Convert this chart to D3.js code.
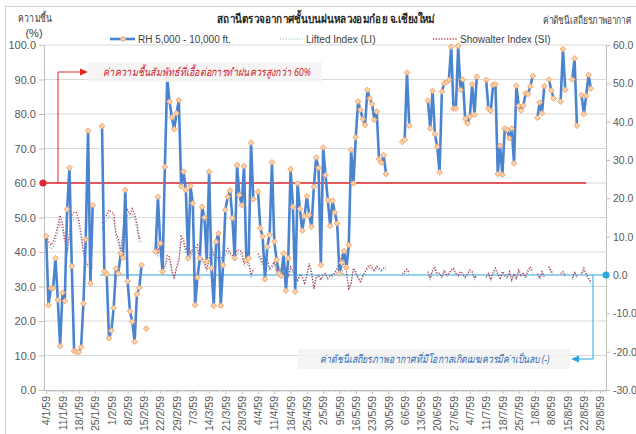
<!DOCTYPE html>
<html>
<head>
<meta charset="utf-8">
<script src="https://cdn.jsdelivr.net/npm/d3@7"></script>
<style>
    body { margin: 0; background: #fff; }
    svg { font-family: "Liberation Sans", "Noto Sans", sans-serif; }
</style>
</head>
<body>
<svg id="chart" width="636" height="434"></svg>
<script>
// X axis: weekly labels (Thai date, year 2559)
const tickLabels = ["4/1/59", "11/1/59", "18/1/59", "25/1/59", "1/2/59", "8/2/59", "15/2/59", "22/2/59",
    "29/2/59", "7/3/59", "14/3/59", "21/3/59", "28/3/59", "4/4/59", "11/4/59", "18/4/59", "25/4/59",
    "2/5/59", "9/5/59", "16/5/59", "23/5/59", "30/5/59", "6/6/59", "13/6/59", "20/6/59", "27/6/59",
    "4/7/59", "11/7/59", "18/7/59", "25/7/59", "1/8/59", "8/8/59", "15/8/59", "22/8/59", "29/8/59"];

const leftTicks = [0, 10, 20, 30, 40, 50, 60, 70, 80, 90, 100];
const rightTicks = [-30, -20, -10, 0, 10, 20, 30, 40, 50, 60];

// RH 5,000 - 10,000 ft. (%), one value per day from 4/1/59, null = no sounding
const rh = [
    44.6, 24.6, 29.5, 29.5, 38.2, 26.1, 12.7, 28.2, 25.8, 52.4,
    64.4, 35.9, 11.3, 11.0, 11.0, 12.4, 25.1, 43.7, 75.2, 30.9,
    53.6, null, null, null, 76.5, 34.3, 33.6, 15.0, 17.2, 23.8,
    35.2, 33.8, 39.6, 38.3, 58.0, 31.5, 22.8, 19.8, 14.0, 27.8,
    29.6, 36.2, null, 17.8, null, null, null, 40.1, 56.0, 42.5,
    34.3, 64.7, 90.3, 83.6, 79.0, 75.6, 80.2, 84.0, 59.0, 63.3,
    58.0, 38.2, 59.1, 54.1, 24.6, 32.6, 38.2, 53.1, 50.0, 37.2,
    63.3, 35.3, 24.4, 43.0, 45.4, 24.4, 36.2, 52.2, 56.0, 57.8,
    49.8, 38.2, 65.2, 56.5, 53.6, 64.9, 37.7, 38.2, 71.7, 55.3,
    null, 57.5, 46.9, 44.5, 32.1, 41.5, 45.0, 66.0, 43.0, 37.7,
    33.8, 33.0, 39.6, 28.8, 38.2, 64.0, 53.1, 28.5, 59.9, 52.5,
    46.2, 50.4, 56.2, 50.7, 47.3, 58.9, 67.4, 64.4, 36.2, 70.3,
    62.3, 55.0, 47.6, 54.9, 51.5, 48.3, 33.8, 36.9, 40.3, 35.5,
    42.0, 69.6, 59.9, 73.2, 83.6, 81.2, 78.5, 76.8, 87.0, 84.5,
    82.9, 78.3, 80.7, 66.9, 65.9, 68.1, 62.6, null, null, null,
    null, null, null, 71.9, 72.5, 92.0, 76.6, null, null, null,
    null, null, null, null, 83.9, 75.8, 86.7, 74.2, 70.5, 63.1,
    86.5, 88.9, 89.2, 89.9, 99.5, 81.6, 81.6, 99.7, 87.0, 90.0,
    78.6, 77.3, 79.2, 88.6, 79.8, 90.8, null, null, null, 89.9,
    81.5, 80.9, 88.4, 88.6, 62.6, 70.8, 62.4, 75.8, 75.4, 73.0,
    75.8, 65.7, 88.2, 82.4, 81.0, 82.4, 86.0, 85.8, 88.0, 91.0,
    null, 78.9, 83.3, 80.2, 88.1, null, 90.0, 86.8, 84.5, null,
    null, 83.6, 98.8, 87.0, null, null, 90.0, 96.1, 76.6, null,
    85.5, 80.0, 85.3, 91.3, 87.4, null, null, null, null, null,
    null
];

// Lifted Index (LI), right axis
const li = [
    8.5, 7.5, 6.8, 7.2, 9.0, 11.0, 13.8, 12.0, 8.0, 5.2,
    9.5, 13.8, 14.6, 14.8, 13.0, 9.8, 5.5, 2.8, 2.0, 2.2,
    1.8, null, null, null, 12.0, 13.6, 14.2, 15.4, 14.8, 14.5,
    9.8, 8.4, 5.5, 10.2, 14.2, 15.5, 14.6, 15.8, 14.4, 12.2,
    8.6, 8.8, null, 10.0, null, null, null, 10.2, 4.8, 8.0,
    0.8, 1.6, 4.2, 3.9, 0.6, -1.2, 1.5, 3.0, 8.8, 8.0,
    5.6, 7.2, 4.8, 6.0, 6.0, 6.8, 2.8, 3.6, 2.6, 0.9,
    3.4, 6.4, 4.4, 3.6, 3.9, 3.5, 4.4, 5.1, 6.0, 5.0,
    4.3, 3.9, 5.6, 5.6, 5.2, 2.3, 2.6, 2.8, -0.5, 0.9,
    null, 4.8, 4.0, 2.4, 2.9, 3.2, 1.2, 1.8, 2.8, 0.8,
    1.5, 0.6, 0.0, 1.2, -0.8, 1.5, 0.6, -0.4, -1.6, -0.2,
    -0.8, -2.4, -0.4, 2.3, 0.4, -3.8, -0.8, -0.4, -1.5, -0.4,
    0.0, -1.1, -0.4, -0.4, 0.2, 1.3, 2.0, 1.6, -0.2, 0.6,
    -3.8, -2.4, 1.3, 0.4, -1.0, -2.0, -0.6, 0.4, 1.6, 2.0,
    1.5, 0.8, 1.8, 1.3, 0.8, 1.3, 1.6, null, null, null,
    null, null, null, -0.2, 0.4, 0.9, 0.0, null, null, null,
    null, null, null, null, 0.4, -1.2, 0.8, 1.6, -0.2, 0.0,
    -0.9, 0.8, -0.4, 0.0, 0.8, 1.2, -0.1, -0.5, 0.4, 0.0,
    -0.9, -0.1, 0.8, 0.4, -1.2, -0.4, null, null, null, -0.8,
    0.0, -1.6, 0.4, 1.2, 0.0, -1.2, 0.4, -0.4, -0.9, 0.4,
    -1.6, 0.0, -1.2, 0.8, -0.4, 0.0, -0.9, 0.8, 1.6, 0.4,
    null, 0.0, -1.2, 0.4, -0.8, null, 1.6, 0.4, 0.0, null,
    null, 0.0, 0.4, -0.4, null, null, -1.2, 0.4, -0.8, null,
    0.0, 1.2, 0.0, -1.2, -2.4, null, null, null, null, null,
    null
];

// Showalter Index (SI), right axis
const si = [
    10.0, 8.7, 7.8, 8.7, 10.5, 12.6, 15.6, 13.5, 9.3, 6.1,
    10.9, 15.6, 16.3, 16.3, 14.4, 10.9, 6.1, 3.5, 2.6, 3.0,
    2.4, null, null, null, 13.5, 15.0, 15.6, 17.0, 16.3, 16.1,
    10.9, 9.6, 6.3, 11.4, 15.9, 17.0, 15.9, 17.3, 15.9, 13.5,
    9.6, 9.8, null, 11.3, null, null, null, 11.8, 5.6, 9.2,
    1.5, 2.4, 5.1, 4.7, 1.3, -0.8, 2.2, 3.9, 10.1, 9.2,
    6.5, 8.3, 5.6, 6.9, 6.9, 7.8, 3.5, 4.4, 3.3, 1.5,
    4.2, 7.4, 5.2, 4.4, 4.7, 4.2, 5.2, 6.0, 6.9, 5.8,
    5.1, 4.7, 6.5, 6.5, 6.1, 3.0, 3.3, 3.5, 0.0, 1.5,
    null, 5.6, 4.7, 3.0, 3.5, 3.9, 1.8, 2.4, 3.5, 1.3,
    2.1, 1.1, 0.4, 1.8, -0.4, 2.1, 1.1, 0.0, -1.3, 0.2,
    -0.4, -2.1, 0.0, 3.0, 0.9, -3.5, -0.4, 0.0, -1.2, 0.0,
    0.4, -0.8, 0.0, 0.0, 0.6, 1.8, 3.5, 5.0, 2.0, 1.1,
    -3.5, -2.1, 1.8, 0.9, -0.7, -1.7, -0.3, 0.9, 2.1, 2.6,
    2.0, 1.3, 2.3, 1.8, 1.3, 1.8, 2.1, null, null, null,
    null, null, null, 0.3, 0.9, 1.5, 0.6, null, null, null,
    null, null, null, null, 0.9, -0.8, 1.3, 2.2, 0.4, 0.4,
    -0.5, 1.3, 0.0, 0.4, 1.3, 1.8, 0.4, 0.0, 0.9, 0.4,
    -0.5, 0.4, 1.3, 0.9, -0.8, 0.0, null, null, null, -0.4,
    0.4, -1.2, 0.9, 1.8, 0.4, -0.8, 0.9, 0.0, -0.5, 0.9,
    -1.2, 0.4, -0.8, 1.3, 0.0, 0.4, -0.5, 1.3, 2.2, 0.9,
    null, 0.4, -0.8, 0.9, -0.4, null, 2.2, 0.9, 0.4, null,
    null, 0.4, 0.9, 0.0, null, null, -0.8, 0.9, -0.4, null,
    0.4, 1.8, 0.4, -0.8, -1.8, null, null, null, null, null,
    null
];

const rhThreshold = 60;   // ค่าความชื้นที่ต้องการ (%)
const indexThreshold = 0; // ค่าดัชนีเสถียรภาพ

// Daily categories 4/1/59 .. 31/8/59
const dayFmt = d => `${d.getDate()}/${d.getMonth() + 1}/59`;
const days = d3.timeDay.range(new Date(2016, 0, 4), new Date(2016, 8, 1)).map(dayFmt);

const svg = d3.select('#chart');
const plot = { left: 44, right: 606, top: 45, bottom: 390 };
const thaiFont = '"Noto Sans", "Liberation Sans", sans-serif';

const x = d3.scalePoint()
            .domain(days)
            .range([plot.left + 1, plot.right])
            .padding(0.5);
const yL = d3.scaleLinear().domain([0, 100]).range([plot.bottom, plot.top]);
const yR = d3.scaleLinear().domain([-30, 60]).range([plot.bottom, plot.top]);

// Chart border (only top/left visible inside the window)
svg.append('rect')
   .attr('x', 5.5).attr('y', 6.5)
   .attr('width', 700).attr('height', 500)
   .attr('fill', 'none')
   .attr('stroke', '#d0d0d0');

// Gridlines
svg.append('g')
   .selectAll('line')
   .data(leftTicks.filter(t => t > 0))
   .join('line')
   .attr('x1', plot.left).attr('x2', plot.right)
   .attr('y1', d => yL(d)).attr('y2', d => yL(d))
   .attr('stroke', '#d9d9d9')
   .attr('stroke-width', 1);

// Axes
const styleAxis = g => {
    g.select('.domain').attr('stroke', '#bfbfbf');
    g.selectAll('.tick line').attr('stroke', '#bfbfbf');
    g.selectAll('.tick text').attr('fill', '#595959').attr('font-size', '11px')
     .attr('font-family', '"Liberation Sans", sans-serif');
};

svg.append('g')
   .attr('transform', `translate(${plot.left},0)`)
   .call(d3.axisLeft(yL).tickValues(leftTicks).tickFormat(d3.format('.1f')).tickSize(5).tickSizeOuter(0).tickPadding(3))
   .call(styleAxis);

svg.append('g')
   .attr('transform', `translate(${plot.right},0)`)
   .call(d3.axisRight(yR).tickValues(rightTicks).tickSize(4).tickSizeOuter(0).tickPadding(3))
   .call(styleAxis)
   .call(g => g.selectAll('.tick text').attr('font-size', '10.5px').text(d => d.toFixed(1)));

// minor day ticks
svg.append('g')
   .attr('transform', `translate(0,${plot.bottom})`)
   .call(d3.axisBottom(x).tickValues(days).tickFormat('').tickSize(2).tickSizeOuter(0))
   .call(styleAxis)
   .call(g => g.select('.domain').attr('d', `M${plot.left},0.5H${plot.right}`));

// weekly labels
svg.append('g')
   .attr('transform', `translate(0,${plot.bottom})`)
   .call(d3.axisBottom(x).tickValues(tickLabels).tickSize(4).tickSizeOuter(0))
   .call(styleAxis)
   .call(g => g.select('.domain').remove())
   .call(g => g.selectAll('.tick text')
               .attr('font-size', '10.5px')
               .attr('transform', 'rotate(-90)')
               .attr('text-anchor', 'end')
               .attr('x', -6)
               .attr('y', 0)
               .attr('dy', '0.35em'));

// 60% threshold line
const red = '#e0282e';
svg.append('line')
   .attr('x1', plot.left).attr('x2', 586)
   .attr('y1', yL(rhThreshold)).attr('y2', yL(rhThreshold))
   .attr('stroke', red).attr('stroke-width', 1.3);

// Index 0 line
const cyan = '#2aa8dc';
svg.append('line')
   .attr('x1', 100).attr('x2', plot.right)
   .attr('y1', yR(indexThreshold)).attr('y2', yR(indexThreshold))
   .attr('stroke', cyan).attr('stroke-width', 1);

// Series
const line = scale => d3.line()
                        .defined(d => d.v !== null)
                        .x(d => x(d.day))
                        .y(d => scale(d.v));

const toData = arr => arr.map((v, i) => ({ day: days[i], v: v }));

svg.append('path')
   .datum(toData(li))
   .attr('fill', 'none')
   .attr('stroke', '#8cb7c9')
   .attr('stroke-width', 1.2)
   .attr('stroke-dasharray', '1.2,1.6')
   .attr('d', line(yR));

svg.append('path')
   .datum(toData(si))
   .attr('fill', 'none')
   .attr('stroke', '#b5374a')
   .attr('stroke-width', 1.3)
   .attr('stroke-dasharray', '1.2,1.6')
   .attr('d', line(yR));

svg.append('path')
   .datum(toData(rh))
   .attr('fill', 'none')
   .attr('stroke', '#4a84d0')
   .attr('stroke-width', 2.6)
   .attr('stroke-linejoin', 'round')
   .attr('d', line(yL));

const diamond = d3.symbol(d3.symbolSquare, 16);
svg.append('g')
   .selectAll('path')
   .data(toData(rh).filter(d => d.v !== null))
   .join('path')
   .attr('d', diamond)
   .attr('transform', d => `translate(${x(d.day)},${yL(d.v)}) rotate(45)`)
   .attr('fill', '#fbd2ae')
   .attr('stroke', '#f1a060')
   .attr('stroke-width', 0.9);

// Thai text helper: squeeze horizontally to the width measured on the reference
// (scale transform keeps the vowel / tone marks in place)
function thaiText(xPos, yPos, width, txt, attrs) {
    const t = svg.append('text')
                 .attr('x', 0).attr('y', 0)
                 .attr('font-family', thaiFont)
                 .text(txt);
    Object.entries(attrs).forEach(([k, v]) => t.attr(k, v));
    const w = t.node().getComputedTextLength();
    const sx = w > 0 ? width / w : 1;
    t.attr('transform', `translate(${xPos},${yPos}) scale(${sx},1)`);
    return t;
}

// Annotation: RH > 60%
svg.append('circle').attr('cx', plot.left - 1).attr('cy', yL(rhThreshold)).attr('r', 3.5).attr('fill', red);
svg.append('path')
   .attr('d', `M58,${yL(rhThreshold)}V72H82`)
   .attr('fill', 'none').attr('stroke', red).attr('stroke-width', 1);
svg.append('path').attr('d', 'M88,72L80,68.5L80,75.5Z').attr('fill', red);
svg.append('rect')
   .attr('x', 88).attr('y', 62).attr('width', 234).attr('height', 20)
   .attr('fill', '#f2f2f2').attr('opacity', 0.8);
thaiText(103, 76, 202, 'ค่าความชื้นสัมพัทธ์ที่เอื้อต่อการทำฝนควรสูงกว่า 60%',
         { 'fill': '#d2232a', 'font-size': '11px', 'font-style': 'italic' });

// Annotation: index < 0
svg.append('circle').attr('cx', plot.right).attr('cy', yR(indexThreshold)).attr('r', 3.5).attr('fill', cyan);
svg.append('path')
   .attr('d', `M593,${yR(indexThreshold)}V359H578`)
   .attr('fill', 'none').attr('stroke', cyan).attr('stroke-width', 1);
svg.append('path').attr('d', 'M571,359L579,355.5L579,362.5Z').attr('fill', cyan);
svg.append('rect')
   .attr('x', 298).attr('y', 349).attr('width', 272).attr('height', 20)
   .attr('fill', '#f2f2f2').attr('opacity', 0.8);
thaiText(320, 363, 227, 'ค่าดัชนีเสถียรภาพอากาศที่มีโอกาสเกิดเมฆควรมีค่าเป็นลบ (-)',
         { 'fill': '#2e6db4', 'font-size': '11px', 'font-style': 'italic' });

// Titles
thaiText(217, 23, 218, 'สถานีตรวจอากาศชั้นบนฝนหลวงอมก๋อย  จ.เชียงใหม่',
         { 'font-size': '12px', 'font-weight': 'bold', 'fill': '#262626' });
thaiText(18, 22, 32, 'ความชื้น', { 'font-size': '11px', 'fill': '#404040' });
svg.append('text')
   .attr('x', 34).attr('y', 37)
   .attr('text-anchor', 'middle')
   .attr('font-size', '11px')
   .attr('fill', '#404040')
   .text('(%)');
thaiText(543, 24, 89, 'ค่าดัชนีเสถียรภาพอากาศ', { 'font-size': '11px', 'fill': '#404040' });

// Legend
const legend = svg.append('g').attr('font-size', '10px').attr('fill', '#404040');
legend.append('line').attr('x1', 110).attr('x2', 135).attr('y1', 39).attr('y2', 39)
      .attr('stroke', '#4a84d0').attr('stroke-width', 2.6);
legend.append('path').attr('d', diamond).attr('transform', 'translate(123,39) rotate(45)')
      .attr('fill', '#fbd2ae').attr('stroke', '#f1a060').attr('stroke-width', 0.9);
legend.append('text').attr('x', 138).attr('y', 42.5).text('RH 5,000 - 10,000 ft.');
legend.append('line').attr('x1', 280).attr('x2', 303).attr('y1', 39).attr('y2', 39)
      .attr('stroke', '#8cb7c9').attr('stroke-width', 1.2).attr('stroke-dasharray', '1.2,1.6');
legend.append('text').attr('x', 306).attr('y', 42.5).text('Lifted Index (LI)');
legend.append('line').attr('x1', 433).attr('x2', 457).attr('y1', 39).attr('y2', 39)
      .attr('stroke', '#b5374a').attr('stroke-width', 1.3).attr('stroke-dasharray', '1.2,1.6');
legend.append('text').attr('x', 460).attr('y', 42.5).text('Showalter Index (SI)');
</script>
</body>
</html>
